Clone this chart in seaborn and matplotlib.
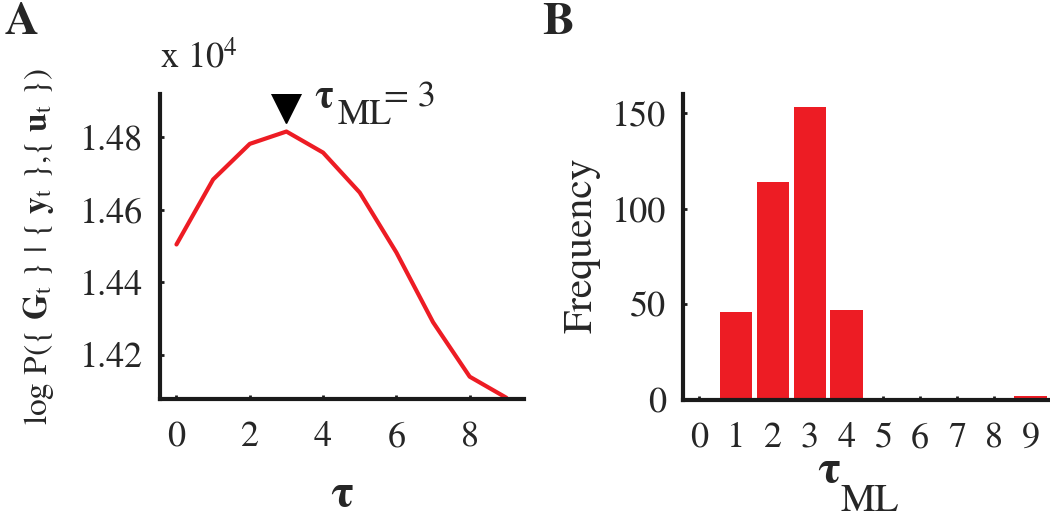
import matplotlib
matplotlib.use("Agg")
import matplotlib.pyplot as plt
import seaborn as sns
import pandas as pd
from matplotlib.ticker import FuncFormatter

# panel A: log likelihood vs tau
tau = [0, 1, 2, 3, 4, 5, 6, 7, 8, 9]
loglik = [14504, 14683, 14781, 14815, 14757, 14647, 14482, 14290, 14140, 14082]
tau_ml = 3

# panel B: histogram of tau_ML
tau_ml_labels = ["0", "1", "2", "3", "4", "5", "6", "7", "8", "9"]
freq = [0, 46, 114, 153, 47, 1, 0, 0, 0, 2]

RED = "#ED1C24"

sns.set_style("ticks")
plt.rcParams["font.family"] = ["STIXGeneral", "DejaVu Serif"]
plt.rcParams["mathtext.fontset"] = "stix"

fig = plt.figure(figsize=(10.5, 5.2), dpi=100)
axA = fig.add_axes([0.152, 0.233, 0.347, 0.586])
axB = fig.add_axes([0.650, 0.231, 0.348, 0.588])

dfA = pd.DataFrame({"tau": tau, "loglik": loglik})
sns.lineplot(data=dfA, x="tau", y="loglik", ax=axA, color=RED, lw=3)
axA.plot([tau_ml], [14880], marker="v", color="black", ms=21, ls="none")
# annotation tau_ML = 3
axA.text(3.75, 14883, "τ", fontsize=28, fontweight="bold", va="baseline")
axA.text(4.4, 14836, "ML", fontsize=26, va="baseline")
axA.text(5.65, 14883, "= 3", fontsize=26, va="baseline")

axA.set_xlim(-0.46, 9.48)
axA.set_ylim(14079, 14918)
axA.set_xticks([0, 2, 4, 6, 8])
axA.set_yticks([14200, 14400, 14600, 14800])
axA.yaxis.set_major_formatter(FuncFormatter(lambda v, p: f"{v / 1e4:.2f}"))
axA.set_xlabel("τ", fontsize=34, fontweight="bold")
axA.xaxis.set_label_coords(0.5, -0.25)
axA.set_ylabel(r"log P({ $\mathbf{G}_\mathrm{t}$ } | { $\mathbf{y}_\mathrm{t}$ },{ $\mathbf{u}_\mathrm{t}$ })",
               fontsize=24)
axA.yaxis.set_label_coords(-0.285, 0.5)
axA.text(0.0, 1.06, r"x 10$^4$", transform=axA.transAxes, fontsize=26, ha="left", va="bottom")

dfB = pd.DataFrame({"tau_ml": tau_ml_labels, "freq": freq})
sns.barplot(data=dfB, x="tau_ml", y="freq", ax=axB, color=RED, saturation=1,
            width=0.88, edgecolor="none")
axB.set_xlim(-0.46, 9.47)
axB.set_ylim(0, 160)
axB.set_yticks([0, 50, 100, 150])
axB.set_xlabel("")
axB.text(0.40, -0.27, "τ", transform=axB.transAxes, fontsize=34, fontweight="bold",
         ha="center", va="baseline")
axB.text(0.432, -0.365, "ML", transform=axB.transAxes, fontsize=28, ha="left", va="baseline")
axB.set_ylabel("Frequency", fontsize=30)
axB.yaxis.set_label_coords(-0.225, 0.505)

for ax in (axA, axB):
    sns.despine(ax=ax)
    for s in ("left", "bottom"):
        ax.spines[s].set_linewidth(3)
        ax.spines[s].set_color("#1a1a1a")
    ax.tick_params(direction="in", length=3, width=2, labelsize=26, color="#1a1a1a")
    ax.tick_params(axis="y", pad=12)
    ax.tick_params(axis="x", pad=16)

fig.text(0.004, 0.995, "A", fontsize=34, fontweight="bold", va="top")
fig.text(0.516, 0.995, "B", fontsize=34, fontweight="bold", va="top")

fig.savefig("out.png", dpi=100)
